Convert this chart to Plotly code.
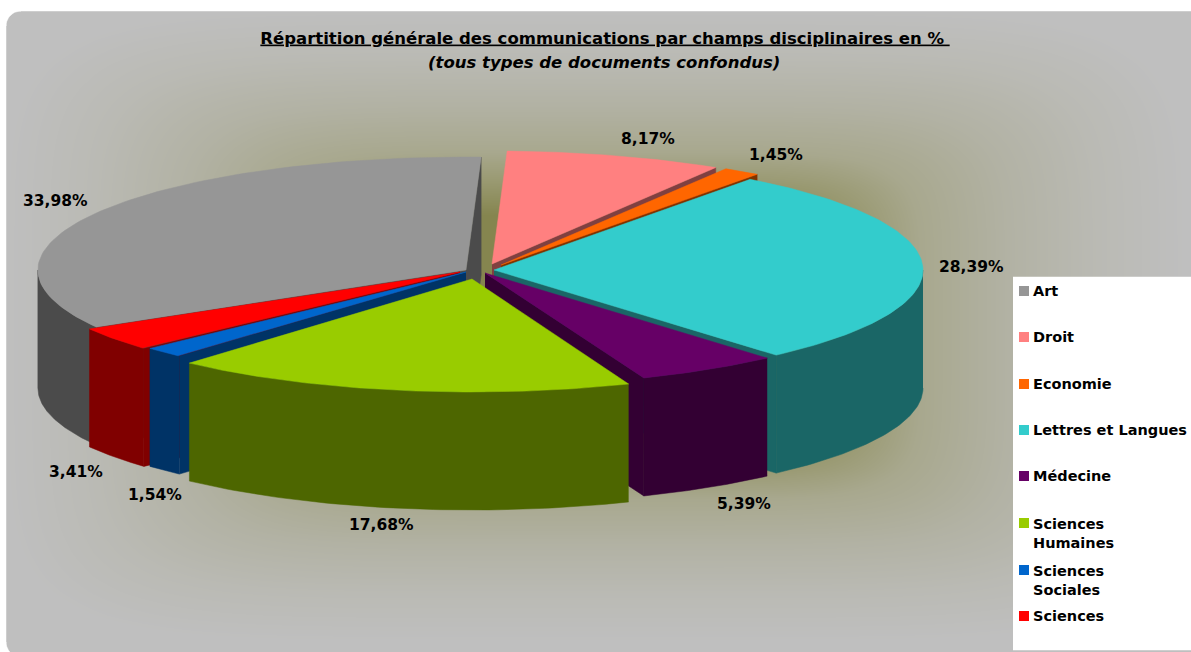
import numpy as np
import plotly.graph_objects as go

CATEGORIES = ["Art", "Droit", "Economie", "Lettres et Langues", "Médecine",
              "Sciences Humaines", "Sciences Sociales", "Sciences"]
LEGEND_TEXT = ["Art", "Droit", "Economie", "Lettres et Langues", "Médecine",
               "Sciences<br>Humaines", "Sciences<br>Sociales", "Sciences"]
VALUES = [33.98, 8.17, 1.45, 28.39, 5.39, 17.68, 1.54, 3.41]
VALUE_LABELS = ["33,98%", "8,17%", "1,45%", "28,39%", "5,39%", "17,68%", "1,54%", "3,41%"]
TOP_COLORS = ["#969696", "#ff8080", "#ff6600", "#33cccc", "#660066", "#99cc00", "#0066cc", "#ff0000"]
WALL_COLORS = ["#4b4b4b", "#804040", "#803300", "#1a6666", "#330033", "#4d6600", "#003366", "#800000"]

# projection of the exploded pie (pixel-ranged axes)
RX, RY, DEPTH = 429, 113, 118
START_DEG = -120.3
APEX = [(466, 270), (492, 264), (501, 265), (494, 270), (485, 273), (472, 279), (466, 272), (460, 272)]
RX_SCALE = [0.998, 1, 1, 1, 1, 0.986, 1, 1]
DRAW_ORDER = [0, 1, 2, 3, 7, 6, 4, 5]
LABEL_POS = [(55, 201), (648, 139), (776, 155), (971, 267), (744, 504), (381, 525), (155, 495), (76, 472)]
LEGEND_Y = [291, 337, 384, 430, 476, 523, 570, 616]
LEGEND_LINE2 = [False, False, False, False, False, True, True, False]

W, H = 1191, 652
FONT = "DejaVu Sans"

fig = go.Figure()

# panel gradient
gx = np.linspace(6, W, 150)
gy = np.linspace(11, H, 85)
X, Y = np.meshgrid(gx, gy)
u = np.abs(X - 595) / 590
v = np.abs(Y - 325) / 315
t = (u ** 6 + v ** 6) ** (1 / 6)
fig.add_trace(go.Heatmap(
    x=gx, y=gy, z=t, zmin=0, zmax=1, zsmooth="best", showscale=False, hoverinfo="skip",
    colorscale=[[0, "#85854f"], [0.35, "#85854f"], [0.45, "#98986f"], [0.55, "#a8a88e"],
                [0.7, "#b2b2a4"], [0.85, "#babab4"], [1, "#bfbfbf"]],
))


def poly(xs, ys, color, name=None):
    fig.add_trace(go.Scatter(x=xs, y=ys, mode="lines", fill="toself", fillcolor=color,
                             line=dict(color=color, width=0.5), hoverinfo="skip",
                             showlegend=False, name=name))


# rounded panel corners
rad = 15
a = np.radians(np.linspace(180, 270, 12))
poly([0] + list(6 + rad + rad * np.cos(a)) + [0], [0] + list(11 + rad + rad * np.sin(a)) + [0], "#ffffff")
a = np.radians(np.linspace(90, 180, 12))
poly([0] + list(6 + rad + rad * np.cos(a)) + [0], [H + 2] + list(642 + rad * np.sin(a)) + [H + 2], "#ffffff")
poly([0, 6, 6, 0], [0, 0, H, H], "#ffffff")
poly([0, W, W, 0], [0, 0, 11, 11], "#ffffff")

# slices
edges = START_DEG + 3.6 * np.concatenate([[0], np.cumsum(VALUES)])


def pt(apex, deg, scale=1.0):
    r = np.radians(deg)
    return apex[0] + scale * RX * np.sin(r), apex[1] - RY * np.cos(r)


for i in DRAW_ORDER:
    t0, t1 = edges[i], edges[i + 1]
    ap = APEX[i]
    k = RX_SCALE[i]
    wall, top = WALL_COLORS[i], TOP_COLORS[i]
    # radial walls seen from the front
    for deg, visible in ((t1, np.sin(np.radians(t1)) > 0), (t0, np.sin(np.radians(t0)) < 0)):
        if visible:
            px, py = pt(ap, deg, k)
            poly([ap[0], px, px, ap[0]], [ap[1], py, py + DEPTH, ap[1] + DEPTH], wall)
    # outer wall: front half only
    for shift in (-360, 0, 360):
        a0, a1 = max(t0, 90 + shift), min(t1, 270 + shift)
        if a1 > a0:
            d = np.linspace(a0, a1, 60)
            xs, ys = pt(ap, d, k)
            poly(list(xs) + list(xs[::-1]), list(ys) + list(ys[::-1] + DEPTH), wall)
    # top face
    d = np.linspace(t0, t1, 90)
    xs, ys = pt(ap, d, k)
    poly([ap[0]] + list(xs) + [ap[0]], [ap[1]] + list(ys) + [ap[1]], top, CATEGORIES[i])

# legend box
poly([1013, W, W, 1013], [277, 277, 650, 650], "#ffffff")
fig.add_trace(go.Scatter(
    x=[1024] * len(CATEGORIES), y=LEGEND_Y, mode="markers", hoverinfo="skip", showlegend=False,
    marker=dict(symbol="square", size=10, color=TOP_COLORS, line=dict(width=0)),
))

annotations = []
for txt, (x, y) in zip(VALUE_LABELS, LABEL_POS):
    annotations.append(dict(x=x, y=y, text=f"<b>{txt}</b>", showarrow=False, xref="x", yref="y",
                            font=dict(family=FONT, size=15.5, color="#000000")))
for txt, y, two in zip(LEGEND_TEXT, LEGEND_Y, LEGEND_LINE2):
    annotations.append(dict(x=1031, y=y + (10 if two else 0), text=f"<b>{txt}</b>", showarrow=False,
                            xref="x", yref="y", xanchor="left", align="left",
                            font=dict(family=FONT, size=14.5, color="#000000")))
annotations.append(dict(x=604, y=62, text="<b><i>(tous types de documents confondus)</i></b>",
                        showarrow=False, xref="x", yref="y",
                        font=dict(family=FONT, size=16.5, color="#000000")))

fig.update_layout(
    width=W, height=H, autosize=False,
    margin=dict(l=0, r=0, t=0, b=0),
    paper_bgcolor="#ffffff", plot_bgcolor="#ffffff",
    showlegend=False,
    xaxis=dict(range=[0, W], visible=False, fixedrange=True),
    yaxis=dict(range=[H, 0], visible=False, fixedrange=True),
    title=dict(
        text="<b><u>Répartition générale des communications par champs disciplinaires en % </u></b>",
        x=605 / W, xanchor="center", y=1 - 32 / H, yanchor="top",
        font=dict(family=FONT, size=16.5, color="#000000"),
    ),
    annotations=annotations,
)
fig.write_html("out.html", config=dict(displayModeBar=False),
               post_script="document.body.style.margin='0';document.documentElement.style.overflow='hidden';")
